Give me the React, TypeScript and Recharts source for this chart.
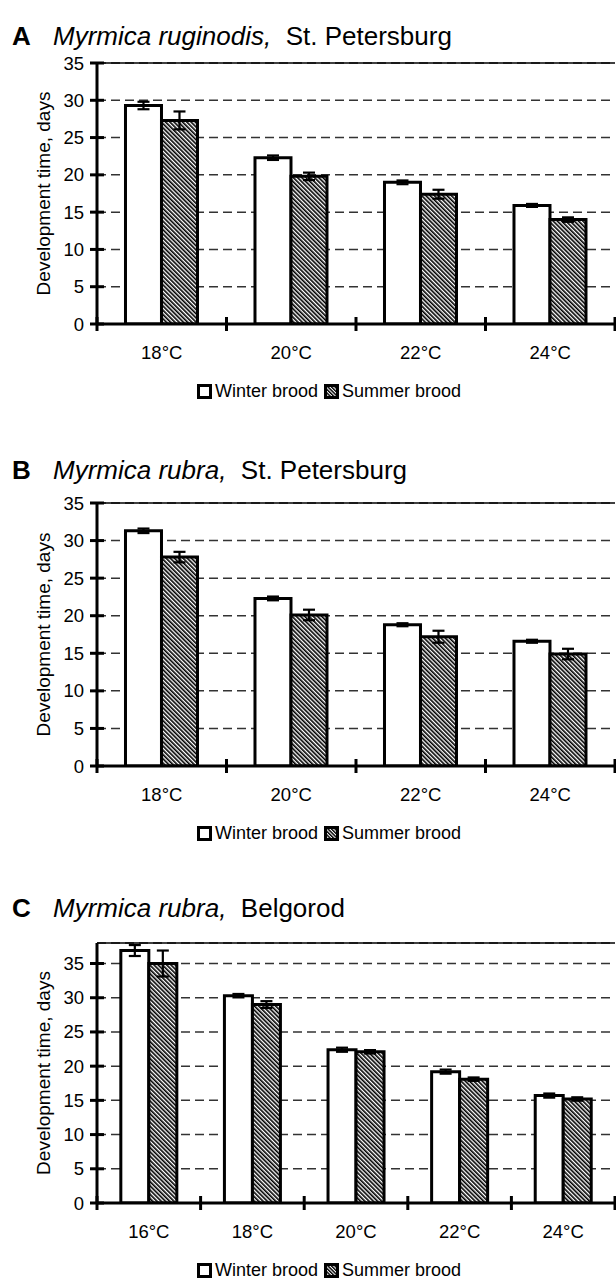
import React from 'react'
import { BarChart, Bar, XAxis, YAxis, CartesianGrid, ErrorBar, ReferenceLine, Legend } from 'recharts'

const FONT = '"Liberation Sans", Arial, Helvetica, sans-serif'

// A: Myrmica ruginodis, St. Petersburg
const tempsA = ['18°C', '20°C', '22°C', '24°C']
const winterA = [29.3, 22.3, 19.0, 15.9]
const winterErrA = [0.5, 0.3, 0.25, 0.2]
const summerA = [27.3, 19.8, 17.4, 14.0]
const summerErrA = [1.2, 0.5, 0.6, 0.3]

// B: Myrmica rubra, St. Petersburg
const tempsB = ['18°C', '20°C', '22°C', '24°C']
const winterB = [31.3, 22.3, 18.8, 16.6]
const winterErrB = [0.3, 0.25, 0.2, 0.2]
const summerB = [27.8, 20.1, 17.2, 14.9]
const summerErrB = [0.7, 0.7, 0.8, 0.7]

// C: Myrmica rubra, Belgorod
const tempsC = ['16°C', '18°C', '20°C', '22°C', '24°C']
const winterC = [36.9, 30.3, 22.4, 19.2, 15.7]
const winterErrC = [0.8, 0.25, 0.3, 0.3, 0.3]
const summerC = [35.0, 29.0, 22.1, 18.1, 15.2]
const summerErrC = [1.9, 0.5, 0.25, 0.25, 0.25]

const yTicks = [0, 5, 10, 15, 20, 25, 30, 35]

const W = 616
const AXIS_X = 97
const RIGHT = 1
const TOP = 63
const PLOT_W = W - AXIS_X - RIGHT

function LegendBox({ id }: { id: string }) {
  return (
    <div style={{ display: 'flex', alignItems: 'center', fontFamily: FONT, fontSize: 18, color: '#000', whiteSpace: 'nowrap' }}>
      <svg width={15} height={15} style={{ marginRight: 3 }}>
        <rect x={1.5} y={1.5} width={12} height={12} fill="#fff" stroke="#000" strokeWidth={3} />
      </svg>
      <span>Winter brood</span>
      <svg width={15} height={15} style={{ marginLeft: 6, marginRight: 3 }}>
        <defs>
          <pattern id={id} patternUnits="userSpaceOnUse" width={2.5} height={2.5} patternTransform="rotate(-45)">
            <rect width={2.5} height={2.5} fill="#fff" />
            <line x1={0.7} y1={0} x2={0.7} y2={2.5} stroke="#000" strokeWidth={1.5} />
          </pattern>
        </defs>
        <rect x={1.5} y={1.5} width={12} height={12} fill={`url(#${id})`} stroke="#000" strokeWidth={3} />
      </svg>
      <span>Summer brood</span>
    </div>
  )
}

interface PanelProps {
  top: number
  titleY: number
  letter: string
  species: string
  place: string
  temps: string[]
  winter: number[]
  winterErr: number[]
  summer: number[]
  summerErr: number[]
  yMax: number
  plotH: number
  gap: string
}

function Panel({ top, titleY, letter, species, place, temps, winter, winterErr, summer, summerErr, yMax, plotH, gap }: PanelProps) {
  const data = temps.map((t, i) => ({ t, winter: winter[i], wErr: winterErr[i], summer: summer[i], sErr: summerErr[i] }))
  const bw = PLOT_W / temps.length
  const axisY = TOP + plotH
  const height = axisY + 100
  const hatchId = `hatch-${letter}`

  const YTick = (p: any) => (
    <g>
      <line x1={AXIS_X - 7} x2={AXIS_X + 7} y1={p.y} y2={p.y} stroke="#000" strokeWidth={3} />
      <text x={AXIS_X - 13} y={p.y} textAnchor="end" dominantBaseline="central" fontSize={18.5} fontFamily={FONT} fill="#000">
        {p.payload.value}
      </text>
    </g>
  )

  const XTick = (p: any) => {
    const i = p.payload.index ?? p.index
    return (
      <g>
        {i === 0 && <line x1={p.x - bw / 2} x2={p.x - bw / 2} y1={axisY - 7} y2={axisY + 7} stroke="#000" strokeWidth={3} />}
        <line x1={p.x + bw / 2} x2={p.x + bw / 2} y1={axisY - 7} y2={axisY + 7} stroke="#000" strokeWidth={3} />
        <text x={p.x} y={axisY + 28} textAnchor="middle" dominantBaseline="central" fontSize={18.5} fontFamily={FONT} fill="#000">
          {p.payload.value}
        </text>
      </g>
    )
  }

  const YLabel = (p: any) => {
    const vb = p.viewBox
    const cx = 43
    const cy = vb.y + vb.height / 2
    return (
      <text x={cx} y={cy} transform={`rotate(-90 ${cx} ${cy})`} textAnchor="middle" dominantBaseline="central" fontSize={19} fontFamily={FONT} fill="#000">
        Development time, days
      </text>
    )
  }

  const titleStyle = { position: 'absolute' as const, top: titleY - 13, fontSize: 26, lineHeight: '26px', fontFamily: FONT, whiteSpace: 'pre' as const }

  return (
    <div style={{ position: 'absolute', left: 0, top, width: W, height }}>
      <span style={{ ...titleStyle, left: 12, fontWeight: 'bold' }}>{letter}</span>
      <span style={{ ...titleStyle, left: 53 }}>
        <i>{species},</i>{'  '}{place}
      </span>
      <BarChart width={W} height={height} data={data} margin={{ top: TOP, right: RIGHT, left: 0, bottom: height - axisY - 30 }} barGap={0} barCategoryGap={gap}>
        <defs>
          <pattern id={hatchId} patternUnits="userSpaceOnUse" width={3} height={3} patternTransform="rotate(-45)">
            <rect width={3} height={3} fill="#fff" />
            <line x1={0.8} y1={0} x2={0.8} y2={3} stroke="#000" strokeWidth={1.7} />
          </pattern>
        </defs>
        <CartesianGrid vertical={false} stroke="#333" strokeWidth={1.5} strokeDasharray="9 5" />
        <XAxis dataKey="t" height={30} interval={0} tickLine={false} axisLine={{ stroke: '#000', strokeWidth: 3 }} tick={(p: any) => <XTick {...p} />} />
        <YAxis
          domain={[0, yMax]}
          ticks={yTicks}
          interval={0}
          width={AXIS_X}
          tickLine={false}
          axisLine={{ stroke: '#000', strokeWidth: 3 }}
          tick={(p: any) => <YTick {...p} />}
          label={{ value: 'Development time, days', content: (p: any) => <YLabel {...p} /> }}
          allowDataOverflow
        />
        <YAxis yAxisId="r" orientation="right" width={0} domain={[0, yMax]} tick={false} tickLine={false} axisLine={{ stroke: '#555', strokeWidth: 1 }} />
        <ReferenceLine y={yMax} stroke="#000" strokeWidth={1.5} />
        <Bar dataKey="winter" fill="#fff" stroke="#000" strokeWidth={3} isAnimationActive={false}>
          <ErrorBar dataKey="wErr" width={6} stroke="#000" strokeWidth={2.2} />
        </Bar>
        <Bar dataKey="summer" fill={`url(#${hatchId})`} stroke="#000" strokeWidth={3} isAnimationActive={false}>
          <ErrorBar dataKey="sErr" width={6} stroke="#000" strokeWidth={2.2} />
        </Bar>
        <Legend
          verticalAlign="middle"
          align="center"
          layout="horizontal"
          wrapperStyle={{ top: axisY + 57, left: 197, width: 'auto' }}
          content={() => <LegendBox id={`lg-${letter}`} />}
        />
      </BarChart>
    </div>
  )
}

export default function App() {
  return (
    <div style={{ position: 'absolute', left: 0, top: 0, width: W, height: 1283, overflow: 'hidden', background: '#fff', fontFamily: FONT }}>
      <Panel top={0} titleY={36} letter="A" species="Myrmica ruginodis" place="St. Petersburg" temps={tempsA}
        winter={winterA} winterErr={winterErrA} summer={summerA} summerErr={summerErrA} yMax={35} plotH={261} gap="22%" />
      <Panel top={440} titleY={30} letter="B" species="Myrmica rubra" place="St. Petersburg" temps={tempsB}
        winter={winterB} winterErr={winterErrB} summer={summerB} summerErr={summerErrB} yMax={35} plotH={263} gap="22%" />
      <Panel top={880} titleY={28} letter="C" species="Myrmica rubra" place="Belgorod" temps={tempsC}
        winter={winterC} winterErr={winterErrC} summer={summerC} summerErr={summerErrC} yMax={38} plotH={260} gap="23%" />
    </div>
  )
}
